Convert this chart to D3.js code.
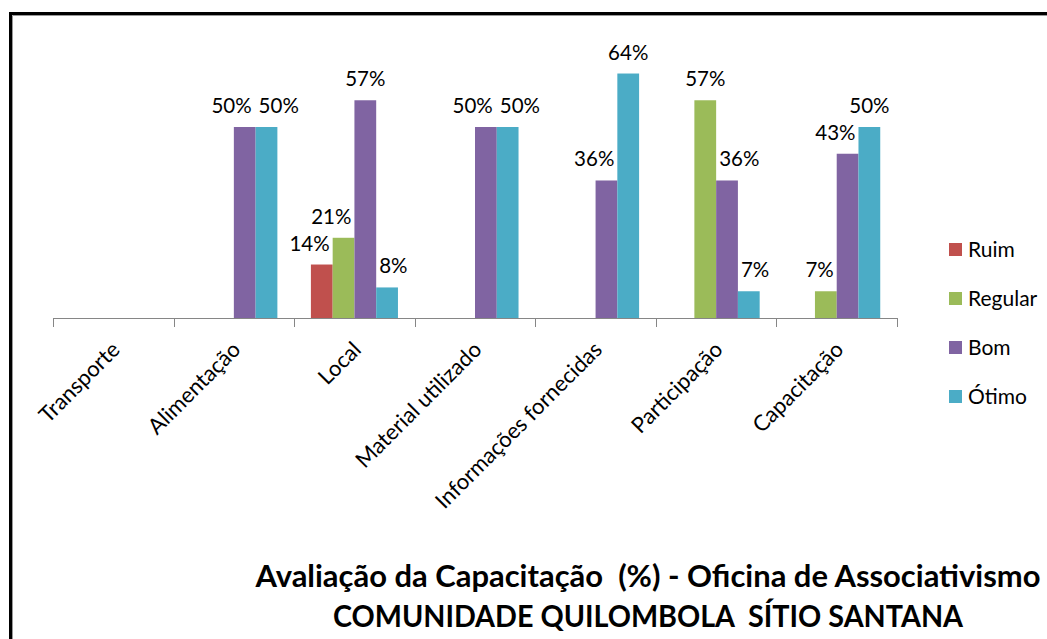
<html>
<head>
<title>Avaliação da Capacitação</title>
<script src="https://d3js.org/d3.v7.min.js"></script>
<style>
body { margin: 0; background: #fff; }
svg { display: block; }
text { font-family: Lato, 'Open Sans', sans-serif; fill: #000; }
</style>
</head>
<body>
<svg></svg>
<script>

var width = 1047;
var height = 639;

// Data (percent)
var categories = ["Transporte", "Alimentação", "Local", "Material utilizado", "Informações fornecidas", "Participação", "Capacitação"];
var seriesNames = ["Ruim", "Regular", "Bom", "Ótimo"];
var ruim    = [null, null, 14, null, null, null, null];
var regular = [null, null, 21, null, null, 57, 7];
var bom     = [null, 50, 57, 50, 36, 36, 43];
var otimo   = [null, 50, 8, 50, 64, 7, 50];
var colors = ["#C0504D", "#9BBB59", "#8064A2", "#4BACC6"];
var titleLines = ["Avaliação da Capacitação  (%) - Oficina de Associativismo", "COMUNIDADE QUILOMBOLA  SÍTIO SANTANA"];

var seriesValues = [ruim, regular, bom, otimo];

var svg = d3.select("svg").attr("width", width).attr("height", height);

// outer frame (cropped at right/bottom in the original)
svg.append("rect")
.attr("x", 10.5).attr("y", 13.5)
.attr("width", width + 20).attr("height", height + 20)
.style("fill", "none").style("stroke", "#000").style("stroke-width", 3);
svg.append("path")
.attr("d", "M12.5," + (height + 5) + "V15.5H" + (width + 5))
.style("fill", "none").style("stroke", "#999").style("stroke-width", 1);

var x0 = d3.scaleBand()
.domain(categories)
.range([53, 897]);

var x1 = d3.scaleBand()
.domain(seriesNames)
.range([0, x0.bandwidth()])
.paddingOuter(0.77);

var yScale = d3.scaleLinear()
.domain([0, 70])
.range([318, 318 - 70 * 3.82]);

// bars
var groups = svg.selectAll("g.cat").data(categories).enter().append("g")
.attr("class", "cat")
.attr("transform", function (d) { return "translate(" + x0(d) + ",0)"; });

groups.each(function (cat, ci) {
	var g = d3.select(this);
	var rows = seriesNames.map(function (s, si) {
		return { series: s, si: si, value: seriesValues[si][ci] };
	});
	g.selectAll("rect").data(rows.filter(function (d) { return d.value != null; }))
	.enter().append("rect")
	.attr("x", function (d) { return x1(d.series); })
	.attr("y", function (d) { return yScale(d.value); })
	.attr("width", x1.bandwidth())
	.attr("height", function (d) { return yScale(0) - yScale(d.value); })
	.style("fill", function (d) { return colors[d.si]; });
});

// axis
var axis = d3.axisBottom(x0).tickSize(0).tickFormat("");
svg.append("g")
.attr("transform", "translate(0,318)")
.call(axis)
.call(function (g) { g.select(".domain").attr("stroke", "#868686"); });

var boundaries = categories.map(function (d) { return x0(d); }).concat([x0.range()[1]]);
svg.selectAll("line.tick").data(boundaries).enter().append("line")
.attr("class", "tick")
.attr("x1", function (d) { return Math.round(d) + 0.5; })
.attr("x2", function (d) { return Math.round(d) + 0.5; })
.attr("y1", 318).attr("y2", 327)
.style("stroke", "#868686");

// category labels, rotated
svg.selectAll("text.cat").data(categories).enter().append("text")
.attr("class", "cat")
.attr("text-anchor", "end")
.attr("transform", function (d) {
	return "translate(" + (x0(d) + x0.bandwidth() / 2 + 8) + ",351) rotate(-45)";
})
.style("font-size", "22px")
.text(function (d) { return d; });

// data labels, nudged away from taller neighbour bars like the original
var labelGap = 14;
var labelHeight = 15;
groups.each(function (cat, ci) {
	var g = d3.select(this);
	var bw = x1.bandwidth();
	var items = [];
	seriesNames.forEach(function (s, si) {
		var v = seriesValues[si][ci];
		if (v == null) return;
		var t = g.append("text")
		.attr("text-anchor", "middle")
		.style("font-size", "20.5px")
		.text(v + "%");
		var w = t.node().getComputedTextLength();
		var base = yScale(v) - labelGap;
		items.push({ t: t, si: si, w: w, cx: x1(s) + bw / 2, base: base, top: base - labelHeight });
	});
	items.forEach(function (it) {
		[it.si - 1, it.si + 1].forEach(function (nj) {
			if (nj < 0 || nj >= seriesNames.length) return;
			var nv = seriesValues[nj][ci];
			if (nv == null) return;
			var nTop = yScale(nv);
			var nl = x1(seriesNames[nj]), nr = nl + bw;
			if (nTop < it.base + 3) {
				if (nj > it.si && it.cx + it.w / 2 > nl - 3) it.cx = nl - 3 - it.w / 2;
				if (nj < it.si && it.cx - it.w / 2 < nr + 3) it.cx = nr + 3 + it.w / 2;
			}
		});
	});
	for (var a = 0; a < items.length; a++) {
		for (var b = a + 1; b < items.length; b++) {
			var A = items[a], B = items[b];
			var vOverlap = A.top < B.base && B.top < A.base;
			var hOverlap = A.cx + A.w / 2 > B.cx - B.w / 2 - 4;
			if (vOverlap && hOverlap) {
				var mid = x1(seriesNames[B.si]);
				A.cx = mid - 4 - A.w / 2;
				B.cx = mid + 3 + B.w / 2;
			}
		}
	}
	items.forEach(function (it) {
		it.t.attr("x", it.cx).attr("y", it.base);
	});
});

// legend
var legend = svg.selectAll("g.legend").data(seriesNames).enter().append("g")
.attr("class", "legend")
.attr("transform", function (d, i) { return "translate(949," + (249.5 + i * 49) + ")"; });
legend.append("rect")
.attr("x", 0).attr("y", -6.5)
.attr("width", 13).attr("height", 13)
.style("fill", function (d, i) { return colors[i]; });
legend.append("text")
.attr("x", 19).attr("y", 7.5)
.style("font-size", "21px")
.text(function (d) { return d; });

// title
var titleWidths = [785, 630];
svg.selectAll("text.title").data(titleLines).enter().append("text")
.attr("class", "title")
.attr("x", 648)
.attr("y", function (d, i) { return 587 + i * 40; })
.attr("text-anchor", "middle")
.attr("textLength", function (d, i) { return titleWidths[i]; })
.attr("lengthAdjust", "spacingAndGlyphs")
.style("white-space", "pre")
.style("font-size", "30px")
.style("font-weight", "bold")
.text(function (d) { return d; });

</script>
</body>
</html>
